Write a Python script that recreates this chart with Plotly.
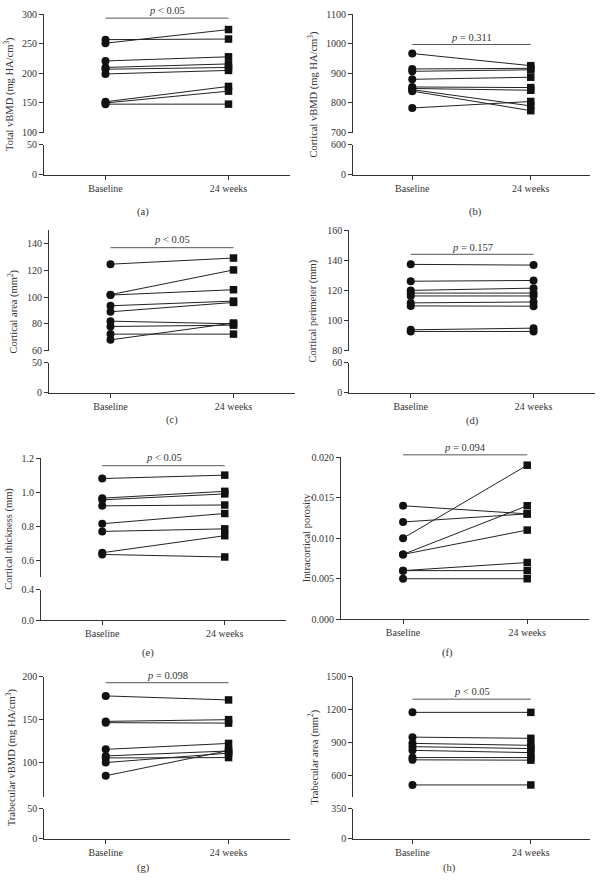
import plotly.graph_objects as go

W, H = 601, 886

time_labels = ["Baseline", "24 weeks"]

a_base = [257, 251, 221, 210, 207, 199, 152, 150, 148]
a_w24 = [258, 274, 228, 216, 210, 205, 178, 170, 148]

b_base = [967, 915, 907, 880, 854, 849, 845, 840, 783]
b_w24 = [926, 917, 912, 887, 852, 843, 790, 774, 805]

c_base = [124.6, 101.8, 101.5, 93.5, 89, 82, 78, 72.3, 68]
c_w24 = [129.2, 120.3, 105.5, 97, 96, 80, 79, 72.3, 80.6]

d_base = [137.3, 126.1, 120, 118.2, 116.3, 111.7, 109.7, 93.8, 92.7]
d_w24 = [136.8, 126.6, 121.5, 118.2, 116.3, 112.3, 109.5, 94.9, 92.7]

e_base = [1.08, 0.965, 0.955, 0.92, 0.815, 0.77, 0.645, 0.635]
e_w24 = [1.10, 1.005, 0.99, 0.925, 0.875, 0.785, 0.745, 0.62]

f_base = [0.014, 0.012, 0.010, 0.008, 0.008, 0.006, 0.006, 0.005]
f_w24 = [0.013, 0.013, 0.019, 0.014, 0.011, 0.007, 0.006, 0.005]

g_base = [177.7, 148, 146.5, 115.4, 107.7, 105.4, 100, 84.6]
g_w24 = [173, 150, 146, 122.3, 113.5, 105.8, 111, 114]

h_base = [1174, 947, 890, 860, 826, 760, 739, 509]
h_w24 = [1174, 936, 872, 842, 805, 760, 736, 509]

titles = {
    "a": "Total vBMD (mg HA/cm<sup>3</sup>)",
    "b": "Cortical vBMD (mg HA/cm<sup>3</sup>)",
    "c": "Cortical area (mm<sup>2</sup>)",
    "d": "Cortical perimeter (mm)",
    "e": "Cortical thickness (mm)",
    "f": "Intracortical porosity",
    "g": "Trabecular vBMD (mg HA/cm<sup>3</sup>)",
    "h": "Trabecular area (mm<sup>2</sup>)",
}
p_texts = {
    "a": "<i>p</i> &lt; 0.05", "b": "<i>p</i> = 0.311", "c": "<i>p</i> &lt; 0.05",
    "d": "<i>p</i> = 0.157", "e": "<i>p</i> &lt; 0.05", "f": "<i>p</i> = 0.094",
    "g": "<i>p</i> = 0.098", "h": "<i>p</i> &lt; 0.05",
}

data = {"a": (a_base, a_w24), "b": (b_base, b_w24), "c": (c_base, c_w24),
        "d": (d_base, d_w24), "e": (e_base, e_w24), "f": (f_base, f_w24),
        "g": (g_base, g_w24), "h": (h_base, h_w24)}

# layout geometry in pixels
panels = [
    dict(k="a", xd=(44, 290), up=(8.3, 128.3), ur=(100, 300), ut=[100, 150, 200, 250, 300],
         lo=(140.7, 171), lr=(0, 50), lt=[0, 50], pl=12.3, pt=4.5, lab=(143, 209), tx=9.5),
    dict(k="b", xd=(353, 590), up=(8.3, 128.3), ur=(700, 1100), ut=[700, 800, 900, 1000, 1100],
         lo=(140.7, 171), lr=(0, 600), lt=[0, 600], pl=39, pt=31.5, lab=(475, 209), tx=313),
    dict(k="c", xd=(49, 295), up=(227.3, 349.3), ur=(60, 150), ut=[60, 80, 100, 120, 140],
         lo=(361.7, 392), lr=(0, 50), lt=[0, 50], pl=245, pt=237, lab=(172, 420), tx=13),
    dict(k="d", xd=(349.3, 595), up=(227.3, 349.3), ur=(80, 160), ut=[80, 100, 120, 140, 160],
         lo=(361.7, 392), lr=(0, 60), lt=[0, 60], pl=251.7, pt=244.5, lab=(472, 421), tx=313),
    dict(k="e", xd=(41, 286), up=(458.3, 579.3), ur=(0.5, 1.2), ut=[0.6, 0.8, 1.0, 1.2],
         lo=(591.7, 622.7), lr=(0, 0.4), lt=[0.0, 0.4], pl=466, pt=457.5, lab=(148, 656), tx=9.5, fmt=".1f"),
    dict(k="f", xd=(341, 589.3), up=(457.3, 621.7), ur=(0, 0.02), ut=[0, 0.005, 0.010, 0.015, 0.020],
         lo=None, pl=455, pt=448, lab=(447, 656), tx=306, fmt=".3f"),
    dict(k="g", xd=(44.3, 290), up=(680, 801.7), ur=(60, 200), ut=[100, 150, 200],
         lo=(814, 844), lr=(0, 50), lt=[0, 50], pl=686, pt=678.5, lab=(143, 874), tx=10.5),
    dict(k="h", xd=(353.3, 590), up=(680, 801.7), ur=(400, 1500), ut=[600, 900, 1200, 1500],
         lo=(814, 844), lr=(0, 350), lt=[0, 350], pl=702.7, pt=694.5, lab=(449, 874), tx=313),
]

def xp(px):
    return px / W

def yp(py):
    return 1 - py / H

FONT = "Liberation Serif"
TXT = "#333333"
LINE = "#333333"

fig = go.Figure()
layout = {}
annotations = []
shapes = []
ax = 0

def axname(n, kind):
    return kind if n == 1 else f"{kind}{n}"

for p in panels:
    k = p["k"]
    base, w24 = data[k]
    ax += 1
    n_main = ax
    xdom = [xp(p["xd"][0]), xp(p["xd"][1])]
    tickfont = dict(family=FONT, size=10, color=TXT)
    fmt = p.get("fmt", "")
    if p["lo"] is not None:
        n_lo = n_main
        ax += 1
        n_up = ax
    else:
        n_lo = n_main
        n_up = n_main
    layout[axname(n_lo, "xaxis")] = dict(
        domain=xdom, range=[-0.5, 1.5], tickvals=[0, 1], ticktext=time_labels,
        ticks="outside", ticklen=4, tickcolor=LINE, showline=True, linecolor=LINE,
        linewidth=1, showgrid=False, zeroline=False, tickfont=tickfont,
        anchor=axname(n_lo, "y"), fixedrange=True)
    if p["lo"] is not None:
        layout[axname(n_lo, "yaxis")] = dict(
            domain=[yp(p["lo"][1]), yp(p["lo"][0])], range=list(p["lr"]), tickvals=p["lt"],
            tickformat=fmt, ticks="outside", ticklen=4, tickcolor=LINE, showline=True,
            linecolor=LINE, linewidth=1, showgrid=False, zeroline=False, tickfont=tickfont,
            anchor=axname(n_lo, "x"))
        layout[axname(n_up, "xaxis")] = dict(
            domain=xdom, range=[-0.5, 1.5], visible=False, matches=axname(n_lo, "x"),
            anchor=axname(n_up, "y"))
        fig.add_trace(go.Scatter(x=[None], y=[None], xaxis=axname(n_lo, "x"),
                                 yaxis=axname(n_lo, "y"), showlegend=False, hoverinfo="skip"))
    layout[axname(n_up, "yaxis")] = dict(
        domain=[yp(p["up"][1]), yp(p["up"][0])], range=list(p["ur"]), tickvals=p["ut"],
        tickformat=fmt, ticks="outside", ticklen=4, tickcolor=LINE, showline=True,
        linecolor=LINE, linewidth=1, showgrid=False, zeroline=False, tickfont=tickfont,
        anchor=axname(n_up, "x"))
    xa, ya = axname(n_up, "x"), axname(n_up, "y")
    for b, w in zip(base, w24):
        fig.add_trace(go.Scatter(x=[0, 1], y=[b, w], mode="lines", xaxis=xa, yaxis=ya,
                                 line=dict(color="#222222", width=1), showlegend=False,
                                 hoverinfo="skip"))
    fig.add_trace(go.Scatter(x=[0] * len(base), y=base, mode="markers", xaxis=xa, yaxis=ya,
                             marker=dict(symbol="circle", size=8, color="#111111"),
                             showlegend=False, cliponaxis=False))
    fig.add_trace(go.Scatter(x=[1] * len(w24), y=w24, mode="markers", xaxis=xa, yaxis=ya,
                             marker=dict(symbol="circle" if k == "d" else "square",
                                         size=8 if k == "d" else 7.5, color="#111111"),
                             showlegend=False, cliponaxis=False))
    shapes.append(dict(type="line", xref=xa, yref="paper", x0=0, x1=1,
                       y0=yp(p["pl"]), y1=yp(p["pl"]), line=dict(color="#555555", width=1)))
    annotations.append(dict(xref=xa, yref="paper", x=0.5, y=yp(p["pt"]), text=p_texts[k],
                            showarrow=False, font=dict(family=FONT, size=10.5, color=TXT),
                            xanchor="center", yanchor="middle"))
    top = p["up"][0]
    bot = p["lo"][1] if p["lo"] is not None else p["up"][1]
    annotations.append(dict(xref="paper", yref="paper", x=xp(p["tx"]), y=yp((top + bot) / 2),
                            text=titles[k], textangle=-90, showarrow=False,
                            font=dict(family=FONT, size=10.5, color=TXT),
                            xanchor="center", yanchor="middle"))
    annotations.append(dict(xref="paper", yref="paper", x=xp(p["lab"][0]), y=yp(p["lab"][1]),
                            text=f"({k})", showarrow=False,
                            font=dict(family=FONT, size=10.5, color=TXT),
                            xanchor="center", yanchor="middle"))

fig.update_layout(
    width=W, height=H, margin=dict(l=0, r=0, t=0, b=0),
    paper_bgcolor="white", plot_bgcolor="white", showlegend=False,
    annotations=annotations, shapes=shapes, **layout)

fig.write_html("out.html", config={"displayModeBar": False},
               post_script="document.body.style.margin='0';document.body.style.overflow='hidden';")
